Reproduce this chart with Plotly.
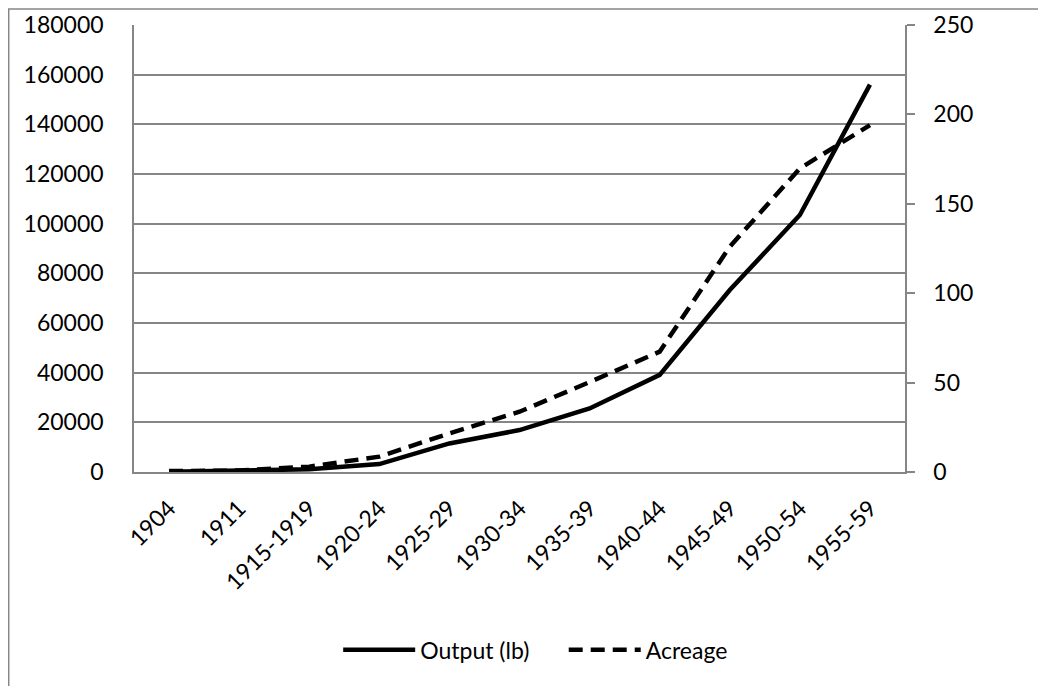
import plotly.graph_objects as go

# Output and acreage by period
periods = ["1904", "1911", "1915-1919", "1920-24", "1925-29", "1930-34",
           "1935-39", "1940-44", "1945-49", "1950-54", "1955-59"]
output_lb = [100, 500, 1100, 3200, 11500, 16900, 25600, 39100, 73300, 103500, 156000]
acreage = [0.5, 0.8, 3, 8.6, 21.6, 33.7, 50.3, 67.3, 126, 169.8, 194]

left_ticks = [0, 20000, 40000, 60000, 80000, 100000, 120000, 140000, 160000, 180000]
right_ticks = [0, 50, 100, 150, 200, 250]

grey = "#868686"
font = "Lato, 'Open Sans', sans-serif"

fig = go.Figure()
# nbsp padding gives the legend the wider gap between its two entries
fig.add_trace(go.Scatter(x=periods, y=output_lb, name="Output (lb)\u00a0\u00a0\u00a0\u00a0\u00a0",
                         mode="lines", line=dict(color="black", width=4.5)))
fig.add_trace(go.Scatter(x=periods, y=acreage, name="Acreage", mode="lines", yaxis="y2",
                         line=dict(color="black", width=4.5, dash="14px,8px")))

# outer chart border (only left and top show inside the picture)
fig.add_shape(type="rect", xref="paper", yref="paper",
              x0=-0.1625, x1=1.3, y0=-0.6, y1=1.036,
              line=dict(color=grey, width=1.5), layer="below")

fig.update_layout(
    width=1046, height=686,
    margin=dict(l=126, r=149, t=17, b=222, autoexpand=False),
    paper_bgcolor="white", plot_bgcolor="white",
    font=dict(family=font, size=23, color="black"),
    showlegend=True,
    legend=dict(orientation="h", x=0.521, y=-0.398, xanchor="center", yanchor="middle",
                font=dict(size=23), itemwidth=72, bgcolor="rgba(0,0,0,0)"),
    xaxis=dict(range=[-0.5, 10.5], tickangle=-45, showgrid=False, showline=True,
               linecolor=grey, linewidth=1.5, ticks="", ticklabelstandoff=12,
               automargin=False, tickfont=dict(size=23), fixedrange=True),
    yaxis=dict(range=[0, 180000], tickvals=left_ticks, ticktext=[str(v) for v in left_ticks],
               showgrid=True, gridcolor=grey, gridwidth=1.5, zeroline=False,
               showline=True, linecolor=grey, linewidth=1.5, ticks="",
               ticklabelstandoff=24, automargin=False, tickfont=dict(size=23)),
    yaxis2=dict(range=[0, 250], tickvals=right_ticks, overlaying="y", side="right",
                showgrid=False, zeroline=False, showline=True, linecolor=grey, linewidth=1.5,
                ticks="outside", ticklen=8, tickcolor=grey, tickwidth=1.5,
                ticklabelstandoff=14, automargin=False, tickfont=dict(size=23)),
)

fig.write_html("out.html")
